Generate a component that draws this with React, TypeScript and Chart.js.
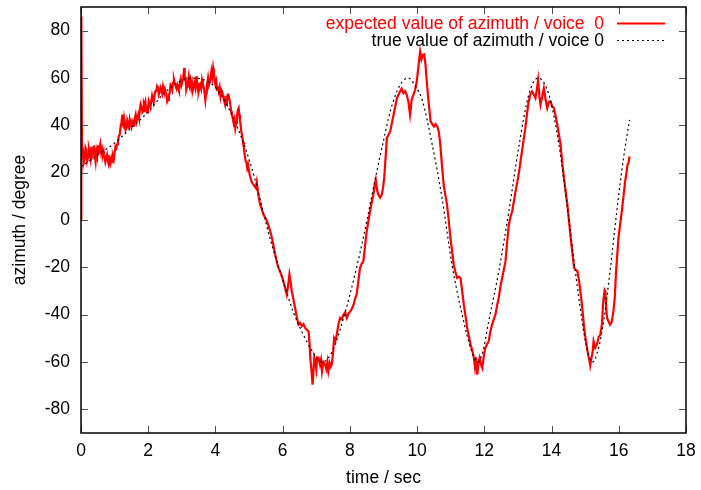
import React, { useEffect, useRef } from 'react';
import { Chart, registerables } from 'chart.js';

Chart.register(...registerables);

const xTicks = [0, 2, 4, 6, 8, 10, 12, 14, 16, 18];
const yTicks = [-80, -60, -40, -20, 0, 20, 40, 60, 80];
const xTitle = 'time / sec';
const yTitle = 'azimuth / degree';
const seriesNames = ['expected value of azimuth / voice  0', 'true value of azimuth / voice 0'];

const expectedT = [
  0, 0.01, 0.03, 0.045, 0.06, 0.085, 0.11, 0.135, 0.16, 0.185, 0.21, 0.235, 0.26, 0.285, 0.31, 0.335, 0.36, 0.385, 0.41, 0.435,
  0.46, 0.485, 0.51, 0.53, 0.55, 0.575, 0.6, 0.625, 0.65, 0.675, 0.7, 0.725, 0.75, 0.775, 0.8, 0.825, 0.85, 0.875, 0.9, 0.925,
  0.95, 0.975, 1.0, 1.025, 1.05, 1.075, 1.1, 1.125, 1.15, 1.175, 1.2, 1.23, 1.25, 1.27, 1.285, 1.3, 1.325, 1.35, 1.375, 1.4,
  1.425, 1.45, 1.475, 1.5, 1.525, 1.55, 1.575, 1.6, 1.625, 1.65, 1.675, 1.7, 1.725, 1.75, 1.775, 1.8, 1.825, 1.85, 1.87, 1.89,
  1.915, 1.94, 1.965, 1.99, 2.015, 2.04, 2.065, 2.09, 2.115, 2.14, 2.165, 2.19, 2.215, 2.24, 2.265, 2.29, 2.315, 2.34, 2.365, 2.39,
  2.415, 2.44, 2.465, 2.49, 2.515, 2.54, 2.565, 2.59, 2.615, 2.64, 2.665, 2.69, 2.715, 2.74, 2.765, 2.79, 2.815, 2.84, 2.865, 2.89,
  2.915, 2.94, 2.965, 2.99, 3.015, 3.04, 3.07, 3.085, 3.1, 3.115, 3.13, 3.155, 3.18, 3.205, 3.23, 3.255, 3.28, 3.305, 3.33, 3.355,
  3.38, 3.405, 3.43, 3.45, 3.47, 3.485, 3.5, 3.525, 3.55, 3.575, 3.6, 3.625, 3.65, 3.675, 3.7, 3.72, 3.74, 3.76, 3.78, 3.805,
  3.83, 3.855, 3.88, 3.905, 3.93, 3.95, 3.97, 3.985, 4.0, 4.025, 4.05, 4.075, 4.1, 4.125, 4.15, 4.175, 4.2, 4.225, 4.25, 4.27,
  4.29, 4.315, 4.34, 4.365, 4.39, 4.415, 4.44, 4.465, 4.49, 4.515, 4.54, 4.565, 4.59, 4.615, 4.64, 4.665, 4.69, 4.71, 4.73, 4.75,
  4.77, 4.795, 4.82, 4.845, 4.87, 4.895, 4.92, 4.945, 4.97, 5.02, 5.07, 5.13, 5.2, 5.23, 5.27, 5.33, 5.38, 5.43, 5.48, 5.53,
  5.58, 5.63, 5.68, 5.72, 5.77, 5.82, 5.87, 5.92, 5.97, 6.02, 6.07, 6.12, 6.16, 6.2, 6.24, 6.27, 6.32, 6.37, 6.42, 6.47,
  6.52, 6.57, 6.62, 6.67, 6.72, 6.77, 6.8, 6.82, 6.86, 6.89, 6.92, 6.94, 6.97, 7.0, 7.03, 7.07, 7.11, 7.14, 7.17, 7.21,
  7.26, 7.3, 7.33, 7.36, 7.4, 7.43, 7.46, 7.5, 7.53, 7.57, 7.61, 7.66, 7.71, 7.76, 7.81, 7.86, 7.91, 7.96, 8.01, 8.06,
  8.11, 8.16, 8.2, 8.25, 8.3, 8.35, 8.4, 8.45, 8.5, 8.55, 8.6, 8.65, 8.7, 8.74, 8.77, 8.81, 8.85, 8.9, 8.95, 8.99,
  9.02, 9.06, 9.1, 9.15, 9.2, 9.25, 9.3, 9.35, 9.4, 9.45, 9.49, 9.54, 9.59, 9.64, 9.69, 9.74, 9.79, 9.84, 9.89, 9.94,
  9.99, 10.04, 10.09, 10.13, 10.17, 10.21, 10.25, 10.29, 10.33, 10.37, 10.4, 10.45, 10.5, 10.55, 10.6, 10.65, 10.69, 10.74, 10.79, 10.84,
  10.89, 10.94, 10.99, 11.04, 11.09, 11.14, 11.19, 11.24, 11.29, 11.34, 11.39, 11.44, 11.49, 11.54, 11.59, 11.64, 11.69, 11.72, 11.75, 11.79,
  11.83, 11.86, 11.9, 11.94, 11.99, 12.03, 12.08, 12.13, 12.18, 12.23, 12.28, 12.33, 12.38, 12.43, 12.48, 12.53, 12.58, 12.63, 12.68, 12.73,
  12.78, 12.83, 12.88, 12.93, 12.98, 13.02, 13.07, 13.12, 13.17, 13.22, 13.27, 13.32, 13.37, 13.42, 13.47, 13.52, 13.56, 13.6, 13.64, 13.67,
  13.72, 13.77, 13.82, 13.87, 13.92, 13.97, 14.02, 14.07, 14.12, 14.17, 14.22, 14.27, 14.32, 14.37, 14.42, 14.47, 14.52, 14.57, 14.62, 14.67,
  14.72, 14.77, 14.82, 14.87, 14.92, 14.97, 15.02, 15.07, 15.12, 15.15, 15.19, 15.22, 15.25, 15.3, 15.35, 15.4, 15.45, 15.5, 15.53, 15.55,
  15.58, 15.6, 15.63, 15.65, 15.7, 15.74, 15.79, 15.84, 15.88, 15.92, 15.99, 16.04, 16.09, 16.14, 16.19, 16.23, 16.26, 16.29, 16.32,
];

const expectedV = [
  0, 86, 27, 31, 29, 24.5, 26, 30.5, 29.5, 25, 26.5, 30, 28.3, 26, 31, 27.5, 29, 31.5, 27, 24.5,
  29, 27, 31.5, 28, 30, 32, 28.5, 30, 27.5, 29, 26.5, 24.5, 26.2, 27.5, 25, 23.5, 25.5, 24, 26, 24.5,
  26.9, 25.5, 28.5, 31, 30.4, 32, 33, 35.5, 36, 39, 41, 44.5, 40, 39.5, 42.5, 41, 38, 39, 42, 40.3,
  38.5, 42.5, 41, 39.5, 42, 41.5, 39.5, 43, 44.5, 41.5, 43, 44.5, 43, 46.5, 49, 48, 45.5, 46, 49.5, 48.7,
  50, 46, 45.5, 47.3, 50, 48.5, 47.5, 50, 52.5, 51, 50, 52.9, 54.5, 54.5, 56.5, 55.7, 53, 54, 56, 55,
  53.5, 56.5, 55, 55.7, 54, 53, 50, 50.7, 52.5, 54, 57, 56.4, 55, 58, 59.5, 57.9, 56.5, 55.5, 57, 55.7,
  54.5, 58, 59.5, 57.1, 58.5, 60, 64.2, 61, 59, 60.5, 55, 56.5, 58, 60.5, 57.1, 59, 56, 58, 55, 56.5,
  58, 56, 60.7, 58, 56, 58, 54.3, 56, 57, 55.5, 59.2, 57.5, 56, 54, 50.7, 53.5, 56, 58, 60, 57,
  58, 60, 62.8, 60.5, 64.2, 62, 60, 58, 57.1, 58.5, 55, 56.5, 54.3, 56, 52.5, 55, 54.3, 52.5, 51, 50,
  48.7, 51, 50, 53, 52.9, 51, 49, 46, 44.5, 43, 41, 42.5, 38.8, 41, 44, 46.5, 47.3, 44.5, 42, 40,
  37.4, 35.5, 33, 30.5, 27.6, 25, 24.5, 22, 23.4, 19, 16.3, 14.9, 13.5, 16, 11, 6.5, 4.5, 2.2, 1, -0.5,
  -2.5, -4.8, -7.5, -10.4, -14, -17.4, -20, -21.7, -23.5, -25.9, -28.5, -31.5, -28, -23, -26.5, -30, -33.5, -37.2, -41, -44.2,
  -43.5, -44.9, -44, -45.6, -46.5, -47, -52, -58.3, -64, -69.6, -63, -58, -59.7, -63, -58, -58.3, -61, -59, -63.9, -60,
  -61.1, -63, -60, -63.9, -60.5, -62, -61.1, -56, -49.9, -51, -48.4, -44, -41.4, -42, -40, -39, -41.4, -39.5, -38.6, -37.5,
  -35.8, -33, -31.5, -26, -20.3, -18.5, -17.4, -11, -4.8, -0.5, 3.7, 7.5, 10.7, 15, 17, 12.5, 10.7, 9.5, 10.7, 14,
  17.7, 26, 34.6, 36, 37.4, 41, 44.5, 48, 51.5, 53, 54.3, 55.5, 53.6, 54.5, 52.9, 50, 44.5, 51, 52.9, 55,
  58.5, 65, 71.2, 68, 69.8, 70, 65.6, 58, 51.5, 46, 41.7, 40.5, 39.5, 40.5, 39.5, 37, 31.8, 23, 14.9, 10.5,
  6.5, 0, -7.6, -13, -18.9, -22, -24.5, -24, -24.5, -30, -35.8, -40.5, -45.6, -49, -52.6, -55, -58.3, -62, -58, -65.3,
  -60, -58.3, -61, -62.5, -57, -54, -52.5, -51.2, -47, -44.2, -42, -40, -36, -32.9, -28, -24.5, -21, -17.4, -9, -1.9,
  1.5, 3.7, 8, 12.2, 16, 19.2, 24, 29.1, 34, 38.8, 45, 50.1, 53, 54.3, 53, 51.5, 55, 59.2, 52, 48.7,
  52, 55.7, 51, 47.3, 50, 50.1, 48, 47.3, 44, 40.3, 36, 31.8, 24, 17.7, 12, 6.5, -0.5, -7.6, -14, -20.3,
  -21, -21.7, -26, -31.5, -38, -45.6, -51, -55.4, -59, -61.5, -58, -56, -51.2, -54, -52.6, -49.5, -48.4, -44, -36, -32.9,
  -29.5, -30, -38, -41.4, -43, -44.2, -43, -38.6, -33, -21.7, -7.6, -2, 3.7, 10, 16.3, 20, 23.4, 24, 26.9,
];

const trueT = [
  0, 0.5, 1.0, 1.5, 2.0, 2.5, 3.0, 3.3, 3.6, 4.0, 4.4, 4.85, 5.2, 5.62, 6.02, 6.31, 6.66, 7.0, 7.15, 7.35,
  7.56, 7.8, 8.0, 8.2, 8.4, 8.6, 8.8, 9.0, 9.2, 9.49, 9.74, 9.95, 10.15, 10.45, 10.74, 11.04, 11.34, 11.59, 11.79, 11.95,
  12.13, 12.43, 12.73, 13.02, 13.32, 13.6, 13.92, 14.22, 14.51, 14.81, 15.01, 15.22, 15.4, 15.55, 15.74, 15.94, 16.14, 16.32,
];

const trueV = [
  22.5, 27.5, 32.5, 39, 45.7, 54, 59, 60, 59.5, 56, 47, 32, 16, -7.6, -26, -38.6, -49.7, -58, -60, -58.5,
  -52.7, -42, -31.6, -20, -7.5, 6.5, 20.4, 33.5, 45.9, 57, 60, 56.5, 50.8, 31.8, 9.4, -19, -40, -54, -60, -56,
  -42.8, -21.7, 3.7, 30.4, 52.9, 60, 52.9, 31.8, 0.8, -32.8, -51.3, -60, -54, -42.8, -21.7, 3.6, 26.1, 42.3,
];

const FONT_FAMILY = '"Liberation Sans", Arial, Helvetica, sans-serif';
const FONT_SIZE = 17.5;

const framePlugin = {
  id: 'gnuFrame',
  afterDatasetsDraw(chart: any) {
    const { ctx, chartArea: a, scales } = chart;
    ctx.save();
    ctx.strokeStyle = '#555';
    ctx.lineWidth = 1;
    ctx.beginPath();
    const tl = 7;
    for (const v of yTicks) {
      const y = Math.round(scales.y.getPixelForValue(v)) + 0.5;
      ctx.moveTo(a.left, y);
      ctx.lineTo(a.left + tl, y);
      ctx.moveTo(a.right, y);
      ctx.lineTo(a.right - tl, y);
    }
    for (const v of xTicks) {
      const x = Math.round(scales.x.getPixelForValue(v)) + 0.5;
      ctx.moveTo(x, a.bottom);
      ctx.lineTo(x, a.bottom - tl);
      ctx.moveTo(x, a.top);
      ctx.lineTo(x, a.top + tl);
    }
    ctx.stroke();

    ctx.strokeStyle = '#000';
    ctx.lineWidth = 1.5;
    ctx.strokeRect(a.left, a.top, a.right - a.left, a.bottom - a.top);

    // key (legend) in the top right corner
    const ds = chart.data.datasets;
    const textX = a.right - 82;
    const lineX0 = a.right - 69;
    const lineX1 = a.right - 21;
    const rows = [a.top + 16, a.top + 33];
    ctx.font = `${FONT_SIZE}px ${FONT_FAMILY}`;
    ctx.textAlign = 'right';
    ctx.textBaseline = 'middle';
    [1, 0].forEach((di, i) => {
      const d = ds[di];
      const y = rows[i];
      ctx.fillStyle = d.legendTextColor;
      ctx.fillText(d.label, textX, y + 1);
      ctx.strokeStyle = d.borderColor;
      ctx.lineWidth = d.legendLineWidth;
      ctx.setLineDash(d.borderDash || []);
      ctx.beginPath();
      ctx.moveTo(lineX0, y + 0.5);
      ctx.lineTo(lineX1, y + 0.5);
      ctx.stroke();
    });
    ctx.setLineDash([]);
    ctx.restore();
  },
};

export default function App() {
  const canvasRef = useRef<HTMLCanvasElement | null>(null);

  useEffect(() => {
    const canvas = canvasRef.current;
    if (!canvas) return;
    Chart.defaults.font.family = FONT_FAMILY;
    Chart.defaults.font.size = FONT_SIZE;
    Chart.defaults.color = '#000';

    const chart = new Chart(canvas, {
      type: 'line',
      data: {
        datasets: [
          {
            label: seriesNames[1],
            data: trueT.map((t, i) => ({ x: t, y: trueV[i] })),
            borderColor: '#000',
            borderWidth: 1.2,
            borderDash: [2, 3],
            pointRadius: 0,
            cubicInterpolationMode: 'monotone',
            fill: false,
            order: 0,
            legendTextColor: '#000',
            legendLineWidth: 1.2,
          } as any,
          {
            label: seriesNames[0],
            data: expectedT.map((t, i) => ({ x: t, y: expectedV[i] })),
            borderColor: '#ff0000',
            borderWidth: 2.2,
            pointRadius: 0,
            tension: 0,
            fill: false,
            order: 1,
            legendTextColor: '#ff0000',
            legendLineWidth: 2,
          } as any,
        ],
      },
      options: {
        animation: false,
        responsive: false,
        maintainAspectRatio: false,
        layout: { padding: { top: 7, right: 15, left: 0, bottom: 0 } },
        plugins: {
          legend: { display: false },
          tooltip: { enabled: false },
        },
        scales: {
          x: {
            type: 'linear',
            min: 0,
            max: 18,
            afterBuildTicks: (s: any) => {
              s.ticks = xTicks.map((v) => ({ value: v }));
            },
            afterFit: (s: any) => {
              s.height = 57;
              s.paddingLeft = 0;
              s.paddingRight = 0;
            },
            grid: { display: false, drawTicks: false },
            border: { display: false },
            ticks: { padding: 8, color: '#000', maxRotation: 0, autoSkip: false, font: { size: FONT_SIZE } },
            title: { display: true, text: xTitle, color: '#000', font: { size: FONT_SIZE }, padding: { top: 0, bottom: 1.5 } },
          },
          y: {
            type: 'linear',
            min: -90,
            max: 90,
            afterBuildTicks: (s: any) => {
              s.ticks = yTicks.map((v) => ({ value: v }));
            },
            afterFit: (s: any) => {
              s.width = 81;
              s.paddingTop = 0;
              s.paddingBottom = 0;
            },
            grid: { display: false, drawTicks: false },
            border: { display: false },
            ticks: { padding: 11, color: '#000', autoSkip: false, font: { size: FONT_SIZE } },
            title: { display: true, text: yTitle, color: '#000', font: { size: FONT_SIZE }, padding: { top: 10, bottom: 0 } },
          },
        },
      },
      plugins: [framePlugin],
    });
    return () => chart.destroy();
  }, []);

  return (
    <div style={{ position: 'absolute', left: 0, top: 0, width: 701, height: 490, background: '#fff' }}>
      <canvas ref={canvasRef} width={701} height={490} style={{ display: 'block', width: 701, height: 490 }} />
    </div>
  );
}
